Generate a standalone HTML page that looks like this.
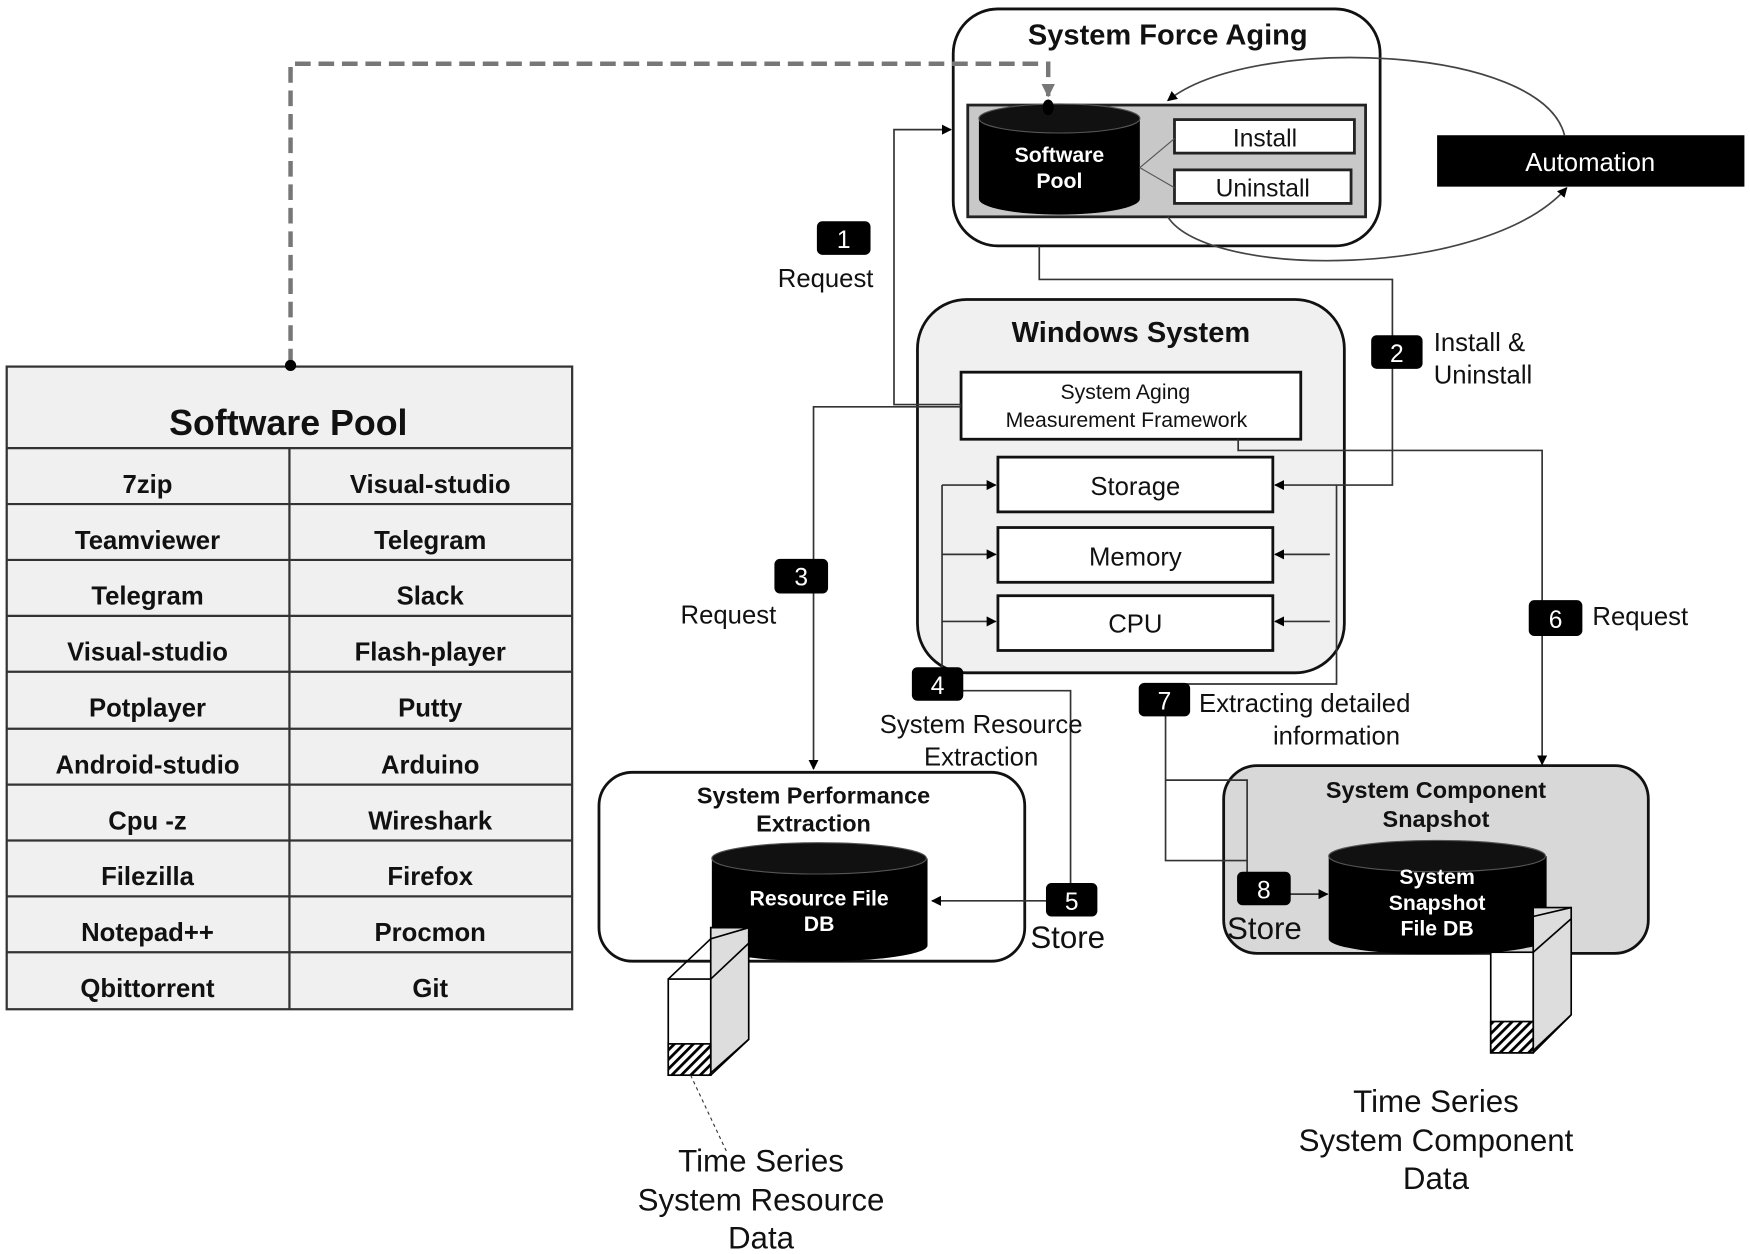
<!DOCTYPE html>
<html><head><meta charset="utf-8"><style>
html,body{margin:0;padding:0;background:#fff;}
svg{display:block;}
text{font-family:"Liberation Sans","DejaVu Sans",sans-serif;fill:#111;}
.b{font-weight:bold;}
.w{fill:#fff;}
</style></head><body>
<svg width="1750" height="1254" viewBox="0 0 1566 1122" preserveAspectRatio="none" xmlns="http://www.w3.org/2000/svg">
<defs>
<marker id="a" viewBox="0 0 10 10" refX="9" refY="5" markerWidth="9" markerHeight="9" orient="auto" markerUnits="userSpaceOnUse"><path d="M0,0L10,5L0,10z" fill="#000"/></marker>
<marker id="ag" viewBox="0 0 10 10" refX="9" refY="5" markerWidth="12" markerHeight="12" orient="auto" markerUnits="userSpaceOnUse"><path d="M0,0L10,5L0,10z" fill="#777"/></marker>
<pattern id="h" width="6" height="6" patternUnits="userSpaceOnUse" patternTransform="rotate(45)"><rect width="6" height="6" fill="#fff"/><rect width="2.5" height="6" fill="#000"/></pattern>
</defs>

<!-- Software pool table -->
<rect x="6" y="328" width="506" height="575" fill="#f0f0f0" stroke="#333" stroke-width="2"/>
<text x="258" y="389" font-size="32" class="b" text-anchor="middle">Software Pool</text>
<g stroke="#333" stroke-width="2">
<line x1="6" y1="401" x2="512" y2="401"/>
<line x1="259" y1="401" x2="259" y2="903"/>
<line x1="6" y1="451" x2="512" y2="451"/><line x1="6" y1="501" x2="512" y2="501"/>
<line x1="6" y1="551" x2="512" y2="551"/><line x1="6" y1="601" x2="512" y2="601"/>
<line x1="6" y1="652" x2="512" y2="652"/><line x1="6" y1="702" x2="512" y2="702"/>
<line x1="6" y1="752" x2="512" y2="752"/><line x1="6" y1="802" x2="512" y2="802"/>
<line x1="6" y1="852" x2="512" y2="852"/>
</g>
<g font-size="23" class="b" text-anchor="middle">
<text x="132" y="441">7zip</text><text x="385" y="441">Visual-studio</text>
<text x="132" y="491">Teamviewer</text><text x="385" y="491">Telegram</text>
<text x="132" y="541">Telegram</text><text x="385" y="541">Slack</text>
<text x="132" y="591">Visual-studio</text><text x="385" y="591">Flash-player</text>
<text x="132" y="641">Potplayer</text><text x="385" y="641">Putty</text>
<text x="132" y="692">Android-studio</text><text x="385" y="692">Arduino</text>
<text x="132" y="742">Cpu -z</text><text x="385" y="742">Wireshark</text>
<text x="132" y="792">Filezilla</text><text x="385" y="792">Firefox</text>
<text x="132" y="842">Notepad++</text><text x="385" y="842">Procmon</text>
<text x="132" y="892">Qbittorrent</text><text x="385" y="892">Git</text>
</g>

<!-- System Force Aging -->
<rect x="853" y="8" width="382" height="212" rx="40" fill="#fff" stroke="#111" stroke-width="2.5"/>
<text x="1045" y="40" font-size="26" class="b" text-anchor="middle">System Force Aging</text>
<rect x="866" y="94" width="356" height="100" fill="#c8c8c8" stroke="#222" stroke-width="2.5"/>
<path d="M876,106 V178 A72,14 0 0 0 1020,178 V106 Z" fill="#000"/>
<ellipse cx="948" cy="106" rx="72" ry="13" fill="#111" stroke="#555" stroke-width="1"/>
<text x="948" y="145" font-size="19" class="b w" text-anchor="middle">Software</text>
<text x="948" y="168" font-size="19" class="b w" text-anchor="middle">Pool</text>
<rect x="1051" y="107" width="161" height="30" fill="#fff" stroke="#222" stroke-width="2.5"/>
<rect x="1051" y="152" width="158" height="30" fill="#fff" stroke="#222" stroke-width="2.5"/>
<text x="1132" y="131" font-size="22" text-anchor="middle">Install</text>
<text x="1130" y="176" font-size="22" text-anchor="middle">Uninstall</text>
<path d="M1051,124 L1020,150 L1051,168" fill="none" stroke="#555" stroke-width="1"/>
<rect x="1286" y="121" width="275" height="46" fill="#000"/>
<text x="1423" y="153" font-size="23" class="w" text-anchor="middle">Automation</text>
<path d="M1400,121 C1380,40 1120,30 1045,90" fill="none" stroke="#444" stroke-width="1.5" marker-end="url(#a)"/>
<path d="M1045,194 C1080,250 1330,250 1402,168" fill="none" stroke="#444" stroke-width="1.5" marker-end="url(#a)"/>

<!-- dashed link -->
<path d="M260,326 V57 H938 V86" fill="none" stroke="#777" stroke-width="4" stroke-dasharray="14,7" marker-end="url(#ag)"/>
<circle cx="260" cy="327" r="5" fill="#000"/>
<ellipse cx="938" cy="96" rx="5" ry="7" fill="#000"/>

<!-- Windows System -->
<rect x="821" y="268" width="382" height="334" rx="44" fill="#f0f0f0" stroke="#111" stroke-width="2.5"/>
<text x="1012" y="306" font-size="26" class="b" text-anchor="middle">Windows System</text>
<rect x="860" y="333" width="304" height="60" fill="#fff" stroke="#111" stroke-width="2.5"/>
<text x="1007" y="357" font-size="19" text-anchor="middle" style="font-family:'Liberation Sans Narrow','Liberation Sans',sans-serif">System Aging</text>
<text x="1008" y="382" font-size="19" text-anchor="middle" style="font-family:'Liberation Sans Narrow','Liberation Sans',sans-serif">Measurement Framework</text>
<rect x="893" y="409" width="246" height="49" fill="#fff" stroke="#111" stroke-width="2.5"/>
<rect x="893" y="472" width="246" height="49" fill="#fff" stroke="#111" stroke-width="2.5"/>
<rect x="893" y="533" width="246" height="49" fill="#fff" stroke="#111" stroke-width="2.5"/>
<text x="1016" y="443" font-size="23" text-anchor="middle">Storage</text>
<text x="1016" y="506" font-size="23" text-anchor="middle">Memory</text>
<text x="1016" y="566" font-size="23" text-anchor="middle">CPU</text>

<!-- System Performance Extraction -->
<rect x="536" y="691" width="381" height="169" rx="30" fill="#fff" stroke="#111" stroke-width="2.5"/>
<text x="728" y="719" font-size="21" class="b" text-anchor="middle">System Performance</text>
<text x="728" y="744" font-size="21" class="b" text-anchor="middle">Extraction</text>
<path d="M637,768 V846 A96,14 0 0 0 830,846 V768 Z" fill="#000"/>
<ellipse cx="733" cy="768" rx="96" ry="14" fill="#111" stroke="#555"/>
<text x="733" y="810" font-size="19" class="b w" text-anchor="middle">Resource File</text>
<text x="733" y="833" font-size="19" class="b w" text-anchor="middle">DB</text>
<text x="922" y="848" font-size="28">Store</text>
<g stroke="#000" stroke-width="1.5">
<path d="M636,830 L670,830 L670,930 L636,960Z" fill="#ddd"/>
<rect x="598" y="876" width="38" height="86" fill="#fff"/>
<rect x="598" y="934" width="38" height="28" fill="url(#h)"/>
<path d="M598,876 L636,840 L670,830 M636,876 L670,844 M636,962 L670,930" fill="none"/>
</g>
<path d="M618,962 L650,1030" stroke="#333" stroke-dasharray="3,3" fill="none"/>
<g font-size="28" text-anchor="middle">
<text x="681" y="1048">Time Series</text>
<text x="681" y="1083">System Resource</text>
<text x="681" y="1117">Data</text>
</g>

<!-- System Component Snapshot -->
<rect x="1095" y="685" width="380" height="168" rx="30" fill="#d8d8d8" stroke="#111" stroke-width="2.5"/>
<text x="1285" y="714" font-size="21" class="b" text-anchor="middle">System Component</text>
<text x="1285" y="740" font-size="21" class="b" text-anchor="middle">Snapshot</text>
<path d="M1189,766 V840 A97,14 0 0 0 1384,840 V766 Z" fill="#000"/>
<ellipse cx="1286" cy="766" rx="97" ry="14" fill="#111" stroke="#555"/>
<text x="1286" y="791" font-size="19" class="b w" text-anchor="middle">System</text>
<text x="1286" y="814" font-size="19" class="b w" text-anchor="middle">Snapshot</text>
<text x="1286" y="837" font-size="19" class="b w" text-anchor="middle">File DB</text>
<text x="1098" y="840" font-size="28">Store</text>
<g stroke="#000" stroke-width="1.5">
<path d="M1372,812 L1406,812 L1406,908 L1372,940Z" fill="#ddd"/>
<rect x="1334" y="852" width="38" height="90" fill="#fff"/>
<rect x="1334" y="914" width="38" height="28" fill="url(#h)"/>
<path d="M1334,852 L1372,820 L1406,812 M1372,852 L1406,822 M1372,942 L1406,908" fill="none"/>
</g>
<g font-size="28" text-anchor="middle">
<text x="1285" y="995">Time Series</text>
<text x="1285" y="1030">System Component</text>
<text x="1285" y="1064">Data</text>
</g>

<!-- connectors (on top) -->
<g fill="none" stroke="#333" stroke-width="1.5">
<path d="M860,362 H800 V116 H851" marker-end="url(#a)"/>
<path d="M860,364 H728 V688" marker-end="url(#a)"/>
<path d="M930,220 V250 H1246 V434 H1141" marker-end="url(#a)"/>
<path d="M1108,393 V403 H1380 V684" marker-end="url(#a)"/>
<path d="M843,434 H891" marker-end="url(#a)"/>
<path d="M843,496 H891" marker-end="url(#a)"/>
<path d="M843,556 H891" marker-end="url(#a)"/>
<path d="M843,434 V618 H958 V806 H834" marker-end="url(#a)"/>
<path d="M1190,496 H1141" marker-end="url(#a)"/>
<path d="M1190,556 H1141" marker-end="url(#a)"/>
<path d="M1196,434 V612 H1043 V770 H1116 V800 H1188" marker-end="url(#a)"/>
<path d="M1043,698 H1116 V770"/>
</g>

<!-- number badges -->
<g>
<rect x="731" y="198" width="48" height="30" rx="5" fill="#000"/><text x="755" y="222" font-size="22" class="w" text-anchor="middle">1</text>
<rect x="1227" y="300" width="46" height="30" rx="5" fill="#000"/><text x="1250" y="324" font-size="22" class="w" text-anchor="middle">2</text>
<rect x="693" y="500" width="48" height="31" rx="5" fill="#000"/><text x="717" y="524" font-size="22" class="w" text-anchor="middle">3</text>
<rect x="816" y="597" width="46" height="30" rx="5" fill="#000"/><text x="839" y="621" font-size="22" class="w" text-anchor="middle">4</text>
<rect x="936" y="790" width="46" height="30" rx="5" fill="#000"/><text x="959" y="814" font-size="22" class="w" text-anchor="middle">5</text>
<rect x="1368" y="537" width="48" height="32" rx="5" fill="#000"/><text x="1392" y="562" font-size="22" class="w" text-anchor="middle">6</text>
<rect x="1019" y="611" width="46" height="30" rx="5" fill="#000"/><text x="1042" y="635" font-size="22" class="w" text-anchor="middle">7</text>
<rect x="1107" y="780" width="48" height="30" rx="5" fill="#000"/><text x="1131" y="804" font-size="22" class="w" text-anchor="middle">8</text>
</g>
<g font-size="23">
<text x="696" y="257">Request</text>
<text x="1283" y="314">Install &amp;</text>
<text x="1283" y="343">Uninstall</text>
<text x="609" y="558">Request</text>
<text x="1425" y="559">Request</text>
<text x="878" y="656" text-anchor="middle">System Resource</text>
<text x="878" y="685" text-anchor="middle">Extraction</text>
<text x="1073" y="637">Extracting detailed</text>
<text x="1196" y="666" text-anchor="middle">information</text>
</g>
</svg>
</body></html>
